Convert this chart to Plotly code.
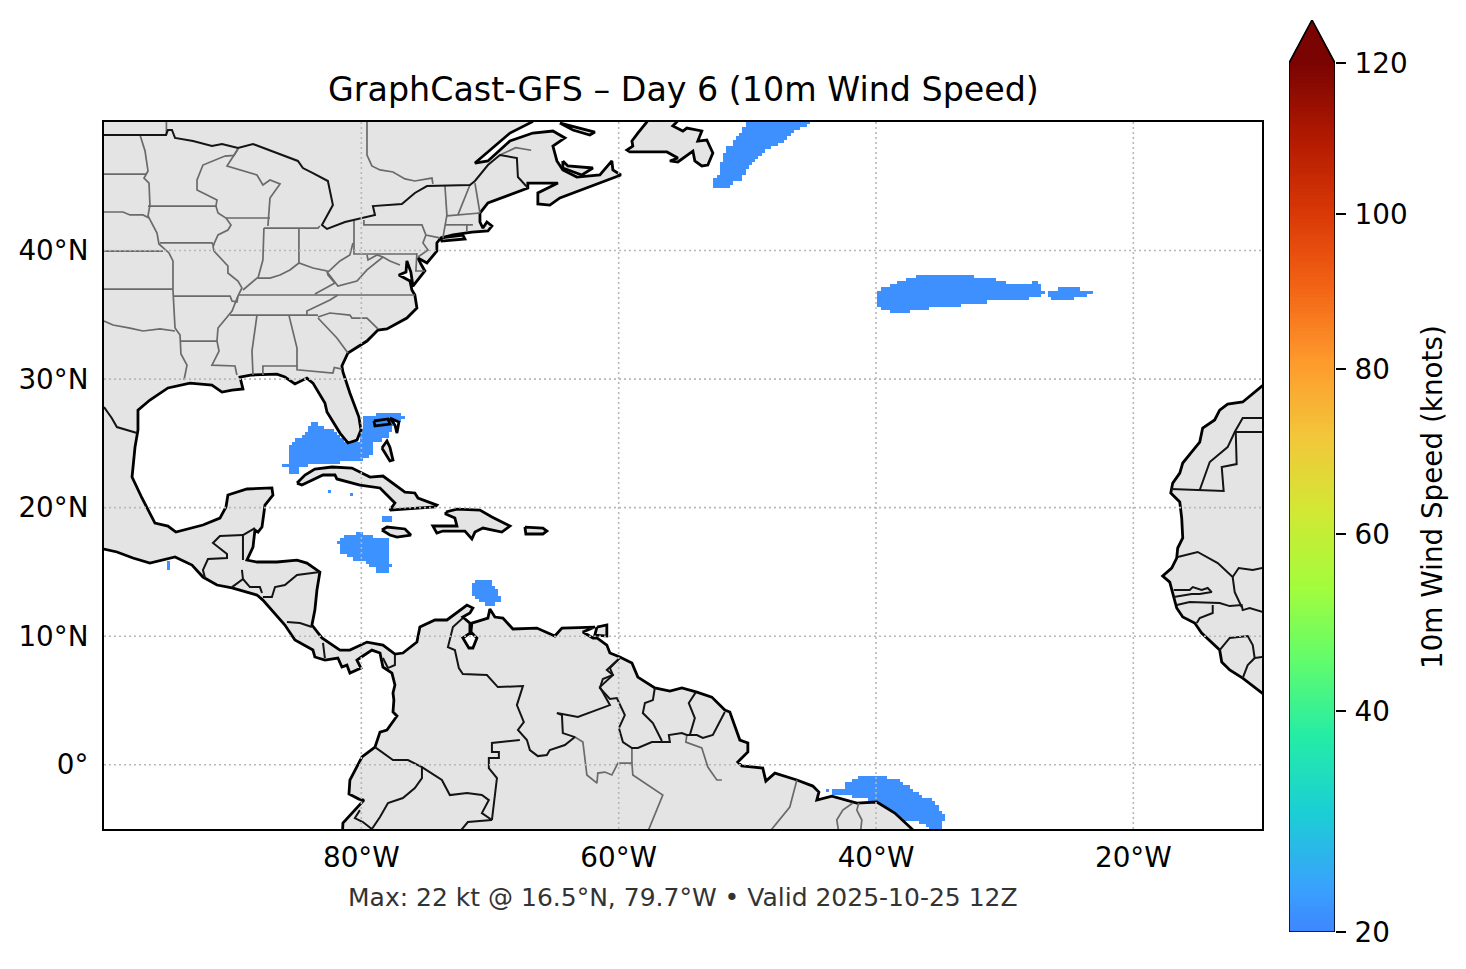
import numpy as np
import plotly.graph_objects as go

# ---------- text ----------
TITLE = "GraphCast-GFS – Day 6 (10m Wind Speed)"
CAPTION = "Max: 22 kt @ 16.5°N, 79.7°W • Valid 2025-10-25 12Z"
CBAR_TITLE = "10m Wind Speed (knots)"
LON_TICKS = [-80, -60, -40, -20]
LON_LABELS = ["80°W", "60°W", "40°W", "20°W"]
LAT_TICKS = [0, 10, 20, 30, 40]
LAT_LABELS = ["0°", "10°N", "20°N", "30°N", "40°N"]
CBAR_LEVELS = [20, 40, 60, 80, 100, 120]
CBAR_FRACTIONS = [0, 0.254, 0.458, 0.648, 0.826, 1.0]
CBAR_STOPS = [[0, "#3f86ff"], [0.053, "#39a2fc"], [0.139, "#1bcfd4"], [0.225, "#24eca6"],
              [0.312, "#61fc6c"], [0.398, "#a4fc3b"], [0.483, "#d1e834"], [0.57, "#f3c63a"],
              [0.655, "#fe9b2d"], [0.742, "#f36315"], [0.828, "#d93806"], [0.914, "#b11901"],
              [1, "#7a0402"]]

# ---------- wind cells: (lat, west lon, east lon) on the 0.25 degree grid, about 21-22 kt ----------
WIND_NW_ATLANTIC = [(45.0,-52.5,-51.5),(45.25,-52.5,-51.25),(45.5,-52.5,-50.5),(45.75,-52.25,-50.5),
    (46.0,-52.0,-50.25),(46.25,-52.0,-50.25),(46.5,-52.0,-50.0),(46.75,-52.0,-49.75),(47.0,-51.75,-49.5),
    (47.25,-51.75,-49.25),(47.5,-51.75,-49.0),(47.75,-51.5,-48.75),(48.0,-51.5,-48.25),(48.25,-51.0,-47.75),
    (48.5,-51.0,-47.25),(48.75,-50.75,-47.0),(49.0,-50.5,-46.75),(49.25,-50.25,-46.5),(49.5,-50.25,-46.0),
    (49.75,-50.0,-45.5),(50.0,-50.0,-45.25)]
WIND_MID_ATLANTIC = [(38.0,-36.75,-32.5),(37.75,-37.5,-30.75),(37.5,-38.25,-30.0),(37.5,-27.75,-27.5),
    (37.25,-38.75,-29.25),(37.25,-29.0,-27.25),(37.0,-39.5,-27.25),(36.75,-39.75,-27.0),(36.5,-39.75,-27.25),
    (36.25,-39.75,-28.25),(36.0,-39.75,-31.5),(35.75,-39.75,-33.5),(35.5,-39.5,-36.0),(35.25,-38.75,-38.0),
    (35.25,-37.75,-37.5),(37.0,-25.75,-24.25),(36.75,-26.5,-23.25),(36.5,-26.5,-23.75),(36.25,-26.25,-24.75)]
WIND_GULF = [(27.25,-78.75,-77.0),(27.0,-79.75,-76.75),(26.75,-79.75,-77.0),(26.5,-83.75,-83.5),(26.5,-79.75,-77.5),
    (26.25,-84.0,-83.0),(26.25,-79.75,-77.75),(26.0,-84.0,-82.25),(26.0,-80.0,-77.75),(25.75,-84.25,-82.0),
    (25.75,-80.0,-78.0),(25.5,-84.5,-81.75),(25.5,-80.0,-78.0),(25.25,-85.0,-81.5),(25.25,-80.0,-78.5),
    (25.0,-85.25,-79.25),(24.75,-85.5,-79.25),(24.5,-85.5,-79.25),(24.25,-85.5,-79.25),(24.0,-85.5,-79.5),
    (23.75,-85.5,-80.0),(23.5,-85.5,-82.25),(23.5,-82.0,-82.0),(23.5,-81.75,-81.75),(23.25,-86.0,-84.25),
    (23.0,-85.5,-85.0),(22.75,-85.5,-85.0),(21.25,-82.5,-82.5),(21.0,-80.75,-80.75)]
WIND_CARIBBEAN = [(19.25,-78.25,-77.75),(19.0,-78.25,-77.75),(18.0,-80.25,-80.0),(17.75,-81.25,-79.25),
    (17.5,-81.5,-78.0),(17.25,-81.75,-78.0),(17.0,-81.5,-78.0),(16.75,-81.5,-78.0),(16.5,-81.5,-78.0),
    (16.25,-81.0,-78.0),(16.0,-80.5,-78.0),(15.75,-79.5,-78.0),(15.5,-79.25,-77.75),(15.25,-78.75,-78.0),
    (15.0,-78.75,-78.0),(15.75,-95.0,-95.0),(15.5,-95.0,-95.0),(15.25,-95.0,-95.0)]
WIND_ARUBA = [(14.25,-71.0,-70.0),(14.0,-71.25,-70.0),(13.75,-71.25,-69.75),(13.5,-71.25,-69.5),(13.25,-71.25,-69.5),
    (13.0,-71.0,-69.25),(12.75,-70.75,-69.25),(12.5,-70.25,-69.75)]
WIND_EQUATOR = [(-1.0,-41.25,-39.25),(-1.25,-41.75,-38.25),(-1.5,-42.25,-38.0),(-1.75,-42.25,-37.5),(-2.0,-43.75,-43.75),
    (-2.0,-43.25,-37.25),(-2.25,-43.25,-36.75),(-2.5,-41.75,-36.5),(-2.75,-40.5,-35.75),(-3.0,-40.0,-35.5),
    (-3.25,-39.5,-35.25),(-3.5,-39.0,-35.25),(-3.75,-38.5,-35.0),(-4.0,-38.25,-34.75),(-4.25,-37.75,-34.75),
    (-4.5,-36.5,-35.0),(-4.75,-36.0,-35.0),(-5.0,-35.75,-35.0)]
WIND_BLOBS = [(WIND_NW_ATLANTIC, 21.5), (WIND_MID_ATLANTIC, 21.5), (WIND_GULF, 21.5),
              (WIND_CARIBBEAN, 21.8), (WIND_ARUBA, 21.5), (WIND_EQUATOR, 21.5)]

# ---------- coastlines (lon, lat) ----------
AMERICAS = [(-66.74,51),(-66.74,50.0),(-68.45,49.14),(-71.17,46.81),(-70.16,46.97),(-68.45,48.52),(-66.67,49.14),
    (-65.11,49.30),(-64.18,48.76),(-65.11,48.13),(-64.8,46.97),(-64.34,46.27),(-63.25,45.72),(-61.46,45.88),
    (-60.53,46.97),(-60.45,46.27),(-59.83,45.88),(-61.46,45.25),(-64.57,44.09),(-65.35,43.54),(-66.28,43.62),
    (-66.28,44.48),(-64.72,45.25),(-67.06,45.25),(-67.06,44.87),(-70.16,43.70),(-70.78,42.92),(-70.78,42.22),
    (-70.55,41.75),(-70.24,42.22),(-69.85,41.91),(-70.16,41.52),(-71.41,41.44),(-72.88,41.21),(-73.82,40.98),
    (-74.13,40.59),(-74.13,39.96),(-74.9,39.03),(-75.6,39.42),(-75.37,38.95),(-75.06,38.41),(-75.99,37.24),
    (-76.15,38.33),(-76.46,39.19),(-76.53,38.33),(-77.08,38.10),(-76.22,37.63),(-76.07,36.93),(-75.84,36.54),
    (-75.68,35.53),(-76.46,34.75),(-78.01,33.90),(-78.71,33.82),(-79.56,32.96),(-81.04,32.03),(-81.51,31.02),
    (-81.43,30.55),(-80.89,28.92),(-80.19,27.05),(-80.03,26.04),(-80.34,25.26),(-81.04,25.03),(-81.66,25.80),
    (-82.67,27.44),(-82.83,28.14),(-83.76,29.69),(-84.23,30.08),(-85.16,29.62),(-85.94,30.16),(-86.56,30.39),
    (-88.5,30.32),(-89.43,30.16),(-89.2,29.23),(-90.05,29.15),(-90.83,28.99),(-91.61,29.54),(-93.32,29.69),
    (-95.03,29.31),(-96.43,28.37),(-97.36,27.59),(-97.36,26.04),(-97.59,24.71),(-97.82,22.38),(-97.05,20.75),
    (-96.04,18.80),(-95.03,18.57),(-94.41,18.10),(-92.31,18.65),(-90.99,19.19),(-90.52,20.05),(-90.37,20.98),
    (-88.89,21.45),(-86.95,21.53),(-86.87,20.98),(-87.49,20.20),(-87.72,18.49),(-88.03,18.10),(-88.27,18.26),
    (-88.42,16.93),(-88.89,15.92),(-88.11,15.77),(-86.56,15.77),(-85.0,15.92),(-84.23,15.69),(-83.22,14.99),
    (-83.45,13.59),(-83.61,12.03),(-83.84,10.87),(-83.06,9.86),(-81.66,8.92),(-80.89,8.92),(-79.56,9.54),
    (-78.32,9.31),(-77.39,8.61),(-76.77,8.69),(-75.68,9.54),(-75.45,10.71),(-74.28,11.26),(-73.35,11.26),
    (-71.79,12.42),(-71.33,12.19),(-71.56,11.80),(-72.11,11.49),(-71.56,11.02),(-71.56,10.24),(-72.11,9.86),
    (-71.64,9.08),(-71.33,9.08),(-71.02,9.86),(-71.48,10.32),(-71.41,11.02),(-70.16,11.41),(-70.01,12.11),
    (-69.62,11.49),(-69.0,11.41),(-68.22,10.56),(-66.36,10.63),(-64.96,10.01),(-64.41,10.63),(-61.85,10.71),
    (-62.78,10.32),(-62.0,9.86),(-61.69,9.86),(-60.92,9.31),(-60.68,8.69),(-59.91,8.38),(-58.97,7.91),(-58.51,6.82),
    (-57.19,5.97),(-56.02,5.73),(-55.09,5.97),(-53.92,5.65),(-52.76,5.26),(-51.75,4.25),(-51.36,4.10),(-50.58,1.92),
    (-49.96,1.69),(-49.96,0.99),(-50.74,0.21),(-50.43,-0.10),(-48.8,-0.26),(-48.56,-1.27),(-47.86,-0.65),
    (-46.15,-1.19),(-44.91,-1.66),(-44.44,-2.13),(-44.6,-2.75),(-43.43,-2.44),(-41.49,-2.98),(-39.94,-2.90),
    (-38.54,-3.76),(-37.37,-4.85),(-37.0,-5.2),(-36.5,-6),(-81.5,-6),(-81.43,-4.54),(-80.34,-3.29),(-79.8,-2.75),
    (-80.19,-2.67),(-80.96,-2.28),(-80.89,-1.19),(-79.95,0.60),(-78.94,1.37),(-78.55,2.54),(-78.01,2.70),
    (-77.23,3.79),(-77.54,4.10),(-77.47,5.03),(-77.54,5.58),(-77.39,6.20),(-77.62,7.13),(-78.32,7.60),(-78.55,8.69),
    (-79.18,8.92),(-80.11,8.30),(-80.34,8.14),(-80.03,7.52),(-80.89,7.13),(-81.12,7.75),(-81.51,7.60),(-81.82,8.30),
    (-82.83,8.14),(-83.61,8.38),(-83.76,8.92),(-85.16,9.70),(-85.94,10.87),(-87.65,12.81),(-88.11,13.20),
    (-90.05,13.75),(-91.22,13.98),(-92.31,14.60),(-93.16,15.53),(-94.48,16.16),(-96.43,15.69),(-97.75,16.08),
    (-98.99,16.55),(-100,16.78),(-101,16.78),(-101,51)]
NEWFOUNDLAND = [(-57.81,51),(-57.81,50.0),(-58.51,49.14),(-58.97,48.52),(-58.9,48.13),(-59.36,47.82),(-59.13,47.67),
    (-56.25,47.67),(-55.4,47.2),(-56.02,46.97),(-55.4,46.89),(-54.23,47.74),(-54.08,46.97),(-53.54,46.58),(-53.07,46.65),
    (-52.68,47.59),(-53.15,48.6),(-53.85,48.52),(-53.54,49.3),(-54.7,49.53),(-55.01,49.3),(-55.79,49.69),(-55.48,50.0),(-55.48,51)]
ANTICOSTI = [(-64.57,49.92),(-61.85,49.22),(-62.24,48.99),(-63.56,49.38),(-64.57,49.92)]
PEI = [(-64.34,46.97),(-63.95,46.58),(-62.0,46.42),(-62.86,45.88),(-64.34,46.42),(-64.34,46.97)]
LONG_ISLAND = [(-73.82,40.98),(-72.11,41.21),(-71.95,40.9),(-73.74,40.74),(-73.82,40.98)]
CUBA = [(-85.0,21.91),(-84.38,22.54),(-83.61,23.0),(-82.28,23.16),(-80.73,23.08),(-79.33,22.38),(-78.32,22.46),
    (-76.61,21.21),(-75.84,21.14),(-75.6,20.75),(-74.13,20.2),(-74.28,20.05),(-77.78,19.81),(-77.39,20.36),
    (-78.55,21.53),(-80.11,21.76),(-81.9,22.23),(-82.05,22.54),(-82.98,22.54),(-84.23,21.91),(-84.62,21.76),(-85.0,21.91)]
JAMAICA = [(-78.4,18.26),(-78.01,18.49),(-76.61,18.34),(-76.15,17.87),(-77.23,17.71),(-77.78,17.87),(-78.4,18.26)]
HISPANIOLA = [(-73.43,19.66),(-72.57,19.89),(-70.78,19.81),(-69.85,19.27),(-68.45,18.57),(-69.08,18.10),(-70.55,18.41),
    (-71.17,18.10),(-71.41,17.56),(-71.95,18.18),(-73.66,18.18),(-74.13,18.02),(-74.44,18.57),(-72.57,18.57),
    (-72.73,19.19),(-73.43,19.5),(-73.43,19.66)]
PUERTO_RICO = [(-67.29,18.49),(-65.89,18.41),(-65.58,18.18),(-65.89,17.95),(-67.21,17.95),(-67.29,18.49)]
ANDROS = [(-78.4,24.64),(-78.01,25.18),(-77.78,24.7),(-77.54,23.7),(-77.78,23.63),(-78.17,24.25),(-78.4,24.64)]
TRINIDAD = [(-61.69,10.71),(-60.92,10.87),(-60.92,10.01),(-61.85,10.09),(-61.69,10.71)]
AFRICA = [(-9,30.2),(-10.1,29.38),(-11.5,28.22),(-12.67,28.06),(-13.29,27.59),(-13.68,26.82),(-14.61,26.19),(-14.84,25.10),
    (-15.46,24.33),(-16.16,23.47),(-16.39,22.69),(-16.94,21.91),(-17.09,21.14),(-16.39,20.44),(-16.24,19.19),(-16.16,17.64),
    (-16.55,16.86),(-16.63,16.08),(-17.02,15.3),(-17.72,14.68),(-17.17,14.21),(-16.86,13.04),(-16.63,12.19),(-16.16,11.49),
    (-15.23,11.02),(-14.69,10.24),(-13.29,8.92),(-13.13,7.99),(-12.51,7.37),(-11.5,6.74),(-10.1,5.65),(-9,4.8)]
ISLANDS_FILLED = [NEWFOUNDLAND, ANTICOSTI, PEI, LONG_ISLAND, CUBA, JAMAICA, HISPANIOLA, PUERTO_RICO, ANDROS, TRINIDAD]
# islands drawn as outline only: the wind field shows through them
GRAND_BAHAMA = [(-79.02,26.74),(-77.93,26.9),(-77.78,26.5),(-78.94,26.35),(-79.02,26.74)]
ABACO = [(-77.78,26.97),(-77.08,26.66),(-77.23,25.8),(-77.39,26.43),(-77.78,26.97)]

# ---------- country borders (lon, lat) ----------
COUNTRY_BORDERS = [
    [(-100,48.99),(-95.18,48.99),(-95.03,49.38),(-94.72,49.38),(-94.48,48.76),(-93.08,48.52),(-91.61,48.13),(-90.83,48.29),
     (-89.59,47.98),(-88.42,48.29),(-84.93,46.97),(-84.54,46.42),(-83.76,46.03),(-82.6,45.41),(-82.21,43.54),(-83.06,41.99),
     (-82.67,41.68),(-81.27,42.22),(-78.94,42.76),(-79.1,43.46),(-76.85,43.62),(-75.84,44.48),(-74.9,45.02),(-71.56,45.10),
     (-71.17,45.41),(-70.16,46.65),(-69.23,47.43),(-67.91,47.20),(-67.83,45.72),(-67.06,44.87)],
    [(-100,27.83),(-99.4,26.97),(-99,26.27),(-97.44,25.80)],
    [(-88.27,18.41),(-89.2,17.87),(-89.2,15.92)],
    [(-89.2,17.87),(-90.99,17.79),(-91.53,17.25),(-90.44,16.39),(-90.44,16.08),(-91.92,16.0),(-92.31,15.15),(-92.15,14.52)],
    [(-89.28,15.15),(-89.2,14.45),(-90.05,13.82)],
    [(-89.2,14.45),(-88.66,13.82),(-87.88,13.82),(-87.72,13.36)],
    [(-87.65,13.04),(-86.95,13.04),(-86.71,13.82),(-85.94,13.98),(-85,14.76),(-83.22,14.99)],
    [(-85.78,11.10),(-84.77,11.02),(-83.84,10.71)],
    [(-82.98,9.47),(-82.83,8.3)],
    [(-78.32,8.3),(-77.93,7.52),(-77.39,7.76),(-77.39,8.54)],
    [(-72.11,11.41),(-72.88,10.71),(-73.27,9.15),(-72.73,8.92),(-72.42,7.52),(-72.11,7.05),(-70.24,6.98),(-69.39,6.04),
     (-67.44,6.12),(-67.91,4.64),(-67.37,3.32),(-67.83,2.70),(-67.13,1.92),(-66.9,1.14),(-66.28,0.67),(-65.58,0.75),
     (-65.35,1.14),(-64.18,1.53),(-63.4,2.15),(-64.34,2.46),(-64.41,3.86),(-64.8,4.02),(-63.17,3.71),(-60.68,4.64),
     (-61.46,6.04),(-60.45,6.98),(-60.92,7.37),(-59.91,8.30)],
    [(-59.91,8.30),(-60.68,7.52),(-60.45,6.98),(-61.23,6.67),(-61.46,5.97),(-60.68,5.11),(-60.14,5.19),(-59.52,3.86),
     (-59.98,2.85),(-59.67,1.76),(-58.97,1.30),(-58.51,1.30),(-57.42,1.76),(-56.02,1.76),(-56.1,2.31),(-55.09,2.46),
     (-54.7,2.31),(-53.92,2.31),(-53.46,2.08),(-52.68,2.31),(-51.75,4.10)],
    [(-57.19,5.97),(-57.34,5.03),(-57.96,4.80),(-58.12,4.02),(-57.34,3.24),(-56.64,1.84)],
    [(-54,5.65),(-54.55,4.8),(-54.08,3.63),(-54.47,2.31)],
    [(-67.68,1.92),(-69.85,1.69),(-69.85,0.99),(-69.31,0.99),(-69.31,0.52),(-70.09,0.52),(-70.09,-0.26),(-69.46,-1.04),(-69.85,-4.30)],
    [(-75.29,-0.18),(-73.74,-1.19),(-73.12,-2.36),(-71.79,-2.20),(-70.63,-2.36),(-70.09,-2.75),(-70.63,-3.76),(-69.85,-4.30),
     (-71.72,-4.46),(-72.34,-5.2)],
    [(-78.94,1.37),(-77.54,0.36),(-76.38,0.36),(-75.29,-0.18),(-75.29,-1.04),(-75.84,-1.81),(-76.77,-2.59),(-77.93,-2.98),
     (-78.55,-4.07),(-79.18,-5),(-79.88,-4.46),(-80.5,-4.15),(-80.11,-3.53)],
    [(-17.09,21.45),(-12.98,21.29),(-13.13,23.16),(-11.97,23.39),(-12.04,25.88),(-9,25.88)],
    [(-14.84,21.37),(-14.06,23.55),(-12.67,24.71),(-12.12,25.88),(-11.5,26.97),(-9,26.97)],
    [(-16.55,16.16),(-15,16.55),(-13.44,15.69),(-12.28,14.60),(-12.12,13.43),(-11.58,12.27)],
    [(-12.28,14.60),(-11.81,15.3),(-10.72,15.15),(-9,15.5)],
    [(-16.86,13.59),(-15.62,13.59),(-15.38,13.82),(-14.69,13.59),(-14.22,13.75),(-13.91,13.43),(-14.84,13.28),(-15.46,13.28),(-16.86,13.04)],
    [(-16.63,12.42),(-15.62,12.66),(-13.29,12.58),(-12.51,12.34),(-11.58,12.42),(-11.5,12.03),(-10.96,12.19),(-9,11.6)],
    [(-13.83,12.42),(-13.83,11.8),(-14.84,11.41),(-15.07,11.02)],
    [(-13.29,8.92),(-12.51,9.86),(-11.11,10.01),(-10.72,9.31),(-10.57,8.3),(-11.11,7.75),(-11.5,6.74)],
    [(-10.57,8.3),(-9,8.5)],
]

# ---------- state and province lines (lon, lat) ----------
STATE_LINES = [
    [(-95.15,50),(-95.15,48.99)],
    [(-79.56,50),(-79.56,47.43),(-79.18,46.58),(-78.55,46.27),(-77.54,46.11),(-76.61,45.57),(-75.84,45.41),(-74.51,45.64),(-74.44,45.18)],
    [(-69.23,47.43),(-68.45,47.8),(-68,48.0),(-66.8,47.8)],
    [(-97.2,48.99),(-96.81,47.74),(-96.58,46.19),(-96.89,45.64),(-96.5,45.25),(-96.43,43.54),(-96.58,42.69),(-95.88,41.36),
     (-95.73,40.51),(-94.95,39.81),(-94.64,39.19),(-94.64,36.93),(-94.48,33.97),(-94.09,33.43),(-94.02,31.95),(-93.55,31.09),(-93.78,29.93)],
    [(-100,45.95),(-96.66,45.95)],
    [(-100,43.0),(-98.52,43.0),(-97.98,42.77),(-96.97,42.77),(-96.5,42.53)],
    [(-100,39.96),(-95.42,39.96)],
    [(-100,37.0),(-94.64,37.0)],
    [(-100,34.52),(-99.3,34.21),(-97.98,33.97),(-96.97,33.74),(-95.65,33.9),(-94.48,33.74)],
    [(-96.58,43.46),(-91.3,43.46),(-91.22,43.93),(-92.77,44.71),(-92.77,45.49),(-92.31,46.65),(-90.6,47.35),(-89.9,47.4),(-89.59,47.9)],
    [(-89.59,47.9),(-90.44,46.58),(-88.11,45.88),(-87.65,45.10),(-87.1,45.49),(-86.32,45.18),(-87.1,44.09),(-87.26,41.91)],
    [(-91.3,43.46),(-91.14,42.92),(-90.52,42.53),(-90.13,41.99),(-90.37,41.6),(-91.14,41.21),(-91.53,40.35),(-91.45,39.96),
     (-90.37,38.8),(-90.37,38.25),(-89.59,37.63),(-89.28,37.09),(-89.59,36.46),(-90.05,35.3),(-91.14,33.97),(-91.22,32.96),
     (-91.06,32.18),(-91.61,31.09),(-89.82,31.02),(-89.67,30.32)],
    [(-90.52,42.53),(-87.1,42.53)],
    [(-95.65,40.59),(-91.61,40.59),(-91.45,40.35)],
    [(-94.56,36.46),(-90.2,36.46),(-90.05,36.07),(-89.67,36.0),(-89.59,36.46)],
    [(-94.02,32.96),(-91.22,32.96)],
    [(-90.2,34.98),(-83.37,34.98)],
    [(-89.59,36.54),(-75.84,36.54)],
    [(-81.82,36.54),(-82.44,36.15),(-84.23,35.3),(-84.23,34.98)],
    [(-88.11,34.98),(-88.5,32.18),(-88.42,30.32)],
    [(-85.63,34.98),(-85.0,32.42),(-85.0,31.02)],
    [(-87.65,30.32),(-87.65,31.02),(-85.0,31.02),(-85.0,30.72),(-82.21,30.47),(-82.1,30.9),(-81.51,30.78)],
    [(-83.37,34.75),(-81.9,33.2),(-81.04,32.03)],
    [(-83.37,34.83),(-82.44,35.14),(-80.89,34.98),(-80.73,34.75),(-79.56,34.75),(-78.71,33.90)],
    [(-89.2,36.93),(-88.11,37.86),(-87.1,37.86),(-86.32,38.10),(-85.55,38.49),(-84.85,39.03),(-83.76,38.64),(-82.67,38.41),(-82.6,38.10),(-82.05,37.47),(-83.61,36.62)],
    [(-87.57,41.75),(-87.65,39.26),(-88.03,37.86)],
    [(-87.57,41.75),(-83.37,41.75),(-83.22,41.91)],
    [(-84.85,41.75),(-84.85,39.03)],
    [(-80.57,42.3),(-80.57,39.73),(-75.68,39.73)],
    [(-80.65,40.59),(-80.89,39.65),(-81.66,39.19),(-82.6,38.33)],
    [(-82.6,38.25),(-81.82,37.24),(-80.34,37.63),(-79.56,38.49),(-78.32,39.5),(-77.78,39.19),(-77.0,38.87)],
    [(-79.56,39.65),(-79.48,39.27),(-78.78,39.65),(-78.32,39.5)],
    [(-75.68,39.8),(-75.76,38.41),(-75.06,38.41)],
    [(-79.8,42.38),(-79.8,41.99),(-75.29,41.99),(-74.98,41.21),(-73.9,40.98)],
    [(-74.98,41.21),(-75.21,40.59),(-74.82,40.04),(-75.6,39.5)],
    [(-73.5,45.02),(-73.35,42.76),(-73.66,40.98)],
    [(-71.56,45.1),(-72.5,42.76)],
    [(-71.17,45.25),(-70.78,42.92)],
    [(-73.5,42.0),(-71.33,42.0)],
    [(-73.35,42.69),(-70.78,42.92)],
    [(-71.8,42.0),(-71.8,41.5)],
    # northern Brazil internal lines
    [(-63.4,2.15),(-62.78,1.76),(-62.47,-0.80),(-61.69,-1.43),(-61.62,-0.65),(-61.07,-0.57),(-60.53,-0.80),(-60.06,0.13),(-58.97,0.13),(-58.9,-0.80),(-56.57,-2.36),(-57.73,-5.2)],
    [(-58.97,1.30),(-58.97,0.13)],
    [(-54.7,2.31),(-54.78,1.76),(-53.54,1.30),(-53.07,-0.18),(-52.37,-1.19),(-51.98,-1.19)],
    [(-46.15,-1.19),(-46.7,-3.29),(-48.25,-5.2)],
    [(-41.8,-2.98),(-42.58,-3.53),(-43.05,-4.3),(-42.9,-5.2)],
    [(-41.34,-2.98),(-41.49,-3.53),(-41.1,-4.3),(-41.2,-5.2)],
]

# ---------- colours ----------
LAND = "#e4e4e4"


def xy(points):
    return [p[0] for p in points], [p[1] for p in points]


def segs(lines):
    xs, ys = [], []
    for line in lines:
        a, b = xy(line)
        xs += a + [None]
        ys += b + [None]
    return xs, ys


fig = go.Figure()

# wind field on the 0.25 degree grid
lons = np.arange(-100, -10 + 0.125, 0.25)
lats = np.arange(-5, 50 + 0.125, 0.25)
z = np.full((lats.size, lons.size), np.nan)
for rows, speed in WIND_BLOBS:
    pos = float(np.interp(speed, CBAR_LEVELS, CBAR_FRACTIONS))
    for lat, w, e in rows:
        i = int(round((lat + 5) / 0.25))
        j0 = int(round((w + 100) / 0.25))
        j1 = int(round((e + 100) / 0.25))
        z[i, j0:j1 + 1] = pos
fig.add_trace(go.Heatmap(x=lons, y=lats, z=z, colorscale=CBAR_STOPS, zmin=0, zmax=1,
                         showscale=False, hoverinfo="skip", xaxis="x", yaxis="y"))

# land
for poly in [AMERICAS, AFRICA] + ISLANDS_FILLED:
    a, b = xy(poly)
    fig.add_trace(go.Scatter(x=a, y=b, mode="lines", fill="toself", fillcolor=LAND,
                             line=dict(color="black", width=2.8), hoverinfo="skip", showlegend=False))
for poly in [GRAND_BAHAMA, ABACO]:
    a, b = xy(poly)
    fig.add_trace(go.Scatter(x=a, y=b, mode="lines", line=dict(color="black", width=2.8),
                             hoverinfo="skip", showlegend=False))

# state lines, then borders
a, b = segs(STATE_LINES)
fig.add_trace(go.Scatter(x=a, y=b, mode="lines", line=dict(color="#6a6a6a", width=1.7),
                         hoverinfo="skip", showlegend=False))
a, b = segs(COUNTRY_BORDERS)
fig.add_trace(go.Scatter(x=a, y=b, mode="lines", line=dict(color="#141414", width=2.0),
                         hoverinfo="skip", showlegend=False))

# gridlines above the land and wind
grid = [[(lon, -5), (lon, 50)] for lon in LON_TICKS] + [[(-100, lat), (-10, lat)] for lat in LAT_TICKS]
a, b = segs(grid)
fig.add_trace(go.Scatter(x=a, y=b, mode="lines", line=dict(color="#b8b8b8", width=1.6, dash="2px 3px"),
                         hoverinfo="skip", showlegend=False))

# colour bar
tip = (932 - 20) / 869
bar_y = (np.arange(256) + 0.5) / 256
fig.add_trace(go.Heatmap(x=[0.5], y=bar_y, dx=1, z=bar_y.reshape(-1, 1), colorscale=CBAR_STOPS, zmin=0, zmax=1,
                         showscale=False, hoverinfo="skip", xaxis="x2", yaxis="y2"))
fig.add_trace(go.Scatter(x=[0, 1, 0.5, 0], y=[1, 1, tip, 1], mode="lines", fill="toself", fillcolor="#7a0402",
                         line=dict(color="#7a0402", width=1), xaxis="x2", yaxis="y2",
                         hoverinfo="skip", showlegend=False, cliponaxis=False))
fig.add_trace(go.Scatter(x=[0, 1, 1, 0.5, 0, 0], y=[0, 0, 1, tip, 1, 0], mode="lines",
                         line=dict(color="black", width=1.6), xaxis="x2", yaxis="y2",
                         hoverinfo="skip", showlegend=False, cliponaxis=False))

W, H = 1466, 969
FONT = "DejaVu Sans"
fig.update_layout(
    width=W, height=H, autosize=False, margin=dict(l=0, r=0, t=0, b=0, pad=0),
    paper_bgcolor="white", plot_bgcolor="white", showlegend=False,
    font=dict(family=FONT, color="black", size=27.8),
    xaxis=dict(domain=[104 / W, 1262 / W], range=[-100, -10], showgrid=False, zeroline=False, automargin=False,
               tickmode="array", tickvals=LON_TICKS, ticktext=LON_LABELS, ticks="", ticklabelstandoff=3,
               tickfont=dict(size=27.8), showline=True, mirror=True, linecolor="black", linewidth=2, anchor="y"),
    yaxis=dict(domain=[(H - 829) / H, (H - 122) / H], range=[-5, 50], showgrid=False, zeroline=False, automargin=False,
               tickmode="array", tickvals=LAT_TICKS, ticktext=LAT_LABELS, ticks="", ticklabelstandoff=8,
               tickfont=dict(size=27.8), showline=True, mirror=True, linecolor="black", linewidth=2, anchor="x"),
    xaxis2=dict(domain=[1289 / W, 1335 / W], range=[0, 1], showgrid=False, zeroline=False, automargin=False,
                showticklabels=False, ticks="", anchor="y2"),
    yaxis2=dict(domain=[(H - 932) / H, (H - 20) / H], range=[0, tip], showgrid=False, zeroline=False, automargin=False,
                side="right", anchor="x2", tickmode="array", tickvals=CBAR_FRACTIONS,
                ticktext=[str(v) for v in CBAR_LEVELS], ticks="outside", ticklen=10, tickwidth=2, tickcolor="black",
                tickfont=dict(size=27.8), ticklabelstandoff=3),
    annotations=[
        dict(text=TITLE, x=683 / W, y=1 - 89 / H, xref="paper", yref="paper", showarrow=False,
             xanchor="center", yanchor="middle", font=dict(size=33.3, family=FONT, color="black")),
        dict(text=CAPTION, x=683 / W, y=1 - 897 / H, xref="paper", yref="paper", showarrow=False,
             xanchor="center", yanchor="middle", font=dict(size=25, family=FONT, color="#333333")),
        dict(text=CBAR_TITLE, x=1432 / W, y=1 - 497 / H, xref="paper", yref="paper", showarrow=False,
             textangle=-90, xanchor="center", yanchor="middle", font=dict(size=27.8, family=FONT, color="black")),
    ],
)

fig.write_html(
    "out.html",
    config={"displayModeBar": False, "responsive": False},
    post_script="document.body.style.margin='0';document.documentElement.style.overflow='hidden';",
)
